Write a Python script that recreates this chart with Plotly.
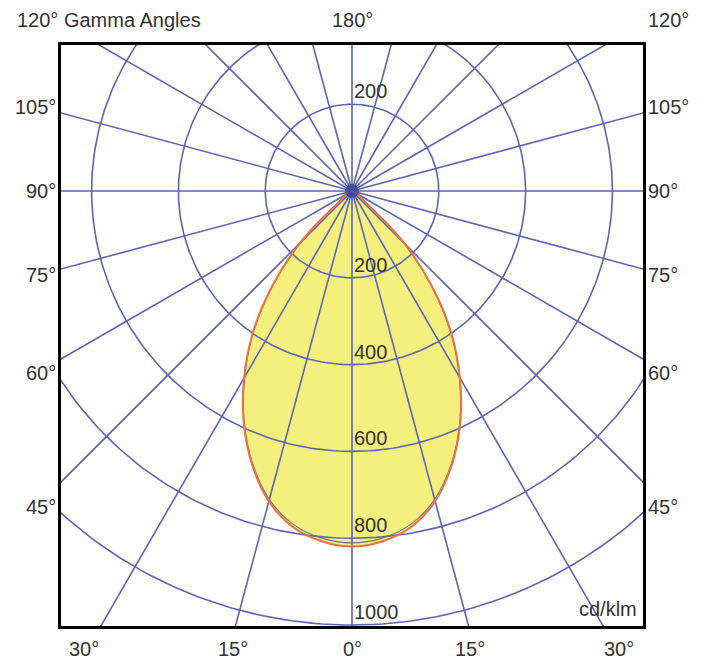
import numpy as np
import plotly.graph_objects as go

# photometric data (cd/klm), symmetric about 0°
gamma_deg = [0, 5, 10, 15, 20, 25, 30, 35, 40, 45, 50, 55]
i_c0 = [819, 810, 786, 740, 672, 590, 497, 398, 286, 170, 40, 0]
i_c90 = [811, 803, 780, 736, 669, 588, 495, 396, 284, 168, 39, 0]

ring_values = [200, 400, 600, 800, 1000]
ring_labels = ["200", "400", "600", "800", "1000"]
spoke_angles = list(range(0, 360, 15))

side_labels = ["105°", "90°", "75°", "60°", "45°"]
side_label_y = [107, 191, 275, 373, 507]          # pixel rows in the reference
bottom_labels = ["30°", "15°", "0°", "15°", "30°"]
bottom_label_x = [84, 233, 352, 470, 619]         # pixel columns in the reference

OFF = 8                                           # page body margin
W, H = 706 - OFF, 663 - OFF
L, R, T, B = 61 - OFF, 643 - OFF, 45 - OFF, 626 - OFF   # plot box
CX, CY = 352 - OFF, 191 - OFF                     # pole of the diagram
scale = 0.434                                     # px per cd/klm

x_range = [(L - CX) / scale, (R - CX) / scale]
y_range = [-(B - CY) / scale, (CY - T) / scale]

grid_col = "#5c65b6"
txt_col = "#333333"
font = "Liberation Sans, Arial, sans-serif"


def to_xy(angles, values):
    a = np.radians(angles)
    v = np.asarray(values, dtype=float)
    return v * np.sin(a), -v * np.cos(a)


def curve(values):
    g = np.array(gamma_deg, dtype=float)
    v = np.array(values, dtype=float)
    ang = np.concatenate([-g[::-1], g[1:]])
    val = np.concatenate([v[::-1], v[1:]])
    return to_xy(ang, val)


fig = go.Figure()

# filled light distribution
fx, fy = curve(i_c0)
fig.add_trace(go.Scatter(x=fx, y=fy, mode="lines", fill="toself",
                         fillcolor="#f5f07e", line=dict(width=0, shape="spline"),
                         hoverinfo="skip"))

# grid: rings and spokes
t = np.linspace(0, 360, 361)
for r in ring_values:
    gx, gy = to_xy(t, [r] * len(t))
    fig.add_trace(go.Scatter(x=gx, y=gy, mode="lines",
                             line=dict(color=grid_col, width=1.6), hoverinfo="skip"))
for a in spoke_angles:
    sx, sy = to_xy([a, a], [0, 1400])
    fig.add_trace(go.Scatter(x=sx, y=sy, mode="lines",
                             line=dict(color=grid_col, width=1.6), hoverinfo="skip"))

# outlines
cx2, cy2 = curve(i_c90)
fig.add_trace(go.Scatter(x=cx2, y=cy2, mode="lines",
                         line=dict(color="#6b7394", width=1.2, shape="spline"),
                         hoverinfo="skip"))
fig.add_trace(go.Scatter(x=fx, y=fy, mode="lines",
                         line=dict(color="#f0703f", width=2, shape="spline"),
                         hoverinfo="skip"))

# pole
fig.add_trace(go.Scatter(x=[0], y=[0], mode="markers",
                         marker=dict(size=14, color="#26379a", opacity=0.6),
                         hoverinfo="skip"))


def px(x):
    return (x - OFF - L) / (R - L)


def py(y):
    return (B - (y - OFF)) / (B - T)


ann = []
fs = 20
# ring values
ann.append(dict(x=0, y=200, xref="x", yref="y", text="200", xanchor="left",
                yanchor="bottom", yshift=0, showarrow=False))
for v, lab in zip(ring_values, ring_labels):
    ann.append(dict(x=0, y=-v, xref="x", yref="y", text=lab, xanchor="left",
                    yanchor="bottom", yshift=0, showarrow=False))
# side angle labels
for lab, yy in zip(side_labels, side_label_y):
    ann.append(dict(x=px(58), y=py(yy), xref="paper", yref="paper", text=lab,
                    xanchor="right", yanchor="middle", showarrow=False))
    ann.append(dict(x=px(646), y=py(yy), xref="paper", yref="paper", text=lab,
                    xanchor="left", yanchor="middle", showarrow=False))
for lab, xx in zip(bottom_labels, bottom_label_x):
    ann.append(dict(x=px(xx), y=py(649), xref="paper", yref="paper", text=lab,
                    xanchor="center", yanchor="middle", showarrow=False))
ann.append(dict(x=px(15), y=py(20), xref="paper", yref="paper", text="120° Gamma Angles",
                xanchor="left", yanchor="middle", showarrow=False))
ann.append(dict(x=px(352), y=py(20), xref="paper", yref="paper", text="180°",
                xanchor="center", yanchor="middle", showarrow=False))
ann.append(dict(x=px(646), y=py(20), xref="paper", yref="paper", text="120°",
                xanchor="left", yanchor="middle", showarrow=False))
ann.append(dict(x=px(639), y=py(609), xref="paper", yref="paper", text="cd/klm",
                xanchor="right", yanchor="middle", showarrow=False))
for a in ann:
    a["font"] = dict(family=font, size=fs, color=txt_col)

axis = dict(showgrid=False, zeroline=False, showticklabels=False, ticks="",
            showline=True, linecolor="black", linewidth=2.5, mirror=True,
            fixedrange=True)
fig.update_layout(
    width=W, height=H,
    margin=dict(l=L, r=W - R, t=T, b=H - B),
    paper_bgcolor="white", plot_bgcolor="white",
    showlegend=False,
    xaxis=dict(range=x_range, **axis),
    yaxis=dict(range=y_range, **axis),
    annotations=ann,
)

fig.write_html("out.html")
